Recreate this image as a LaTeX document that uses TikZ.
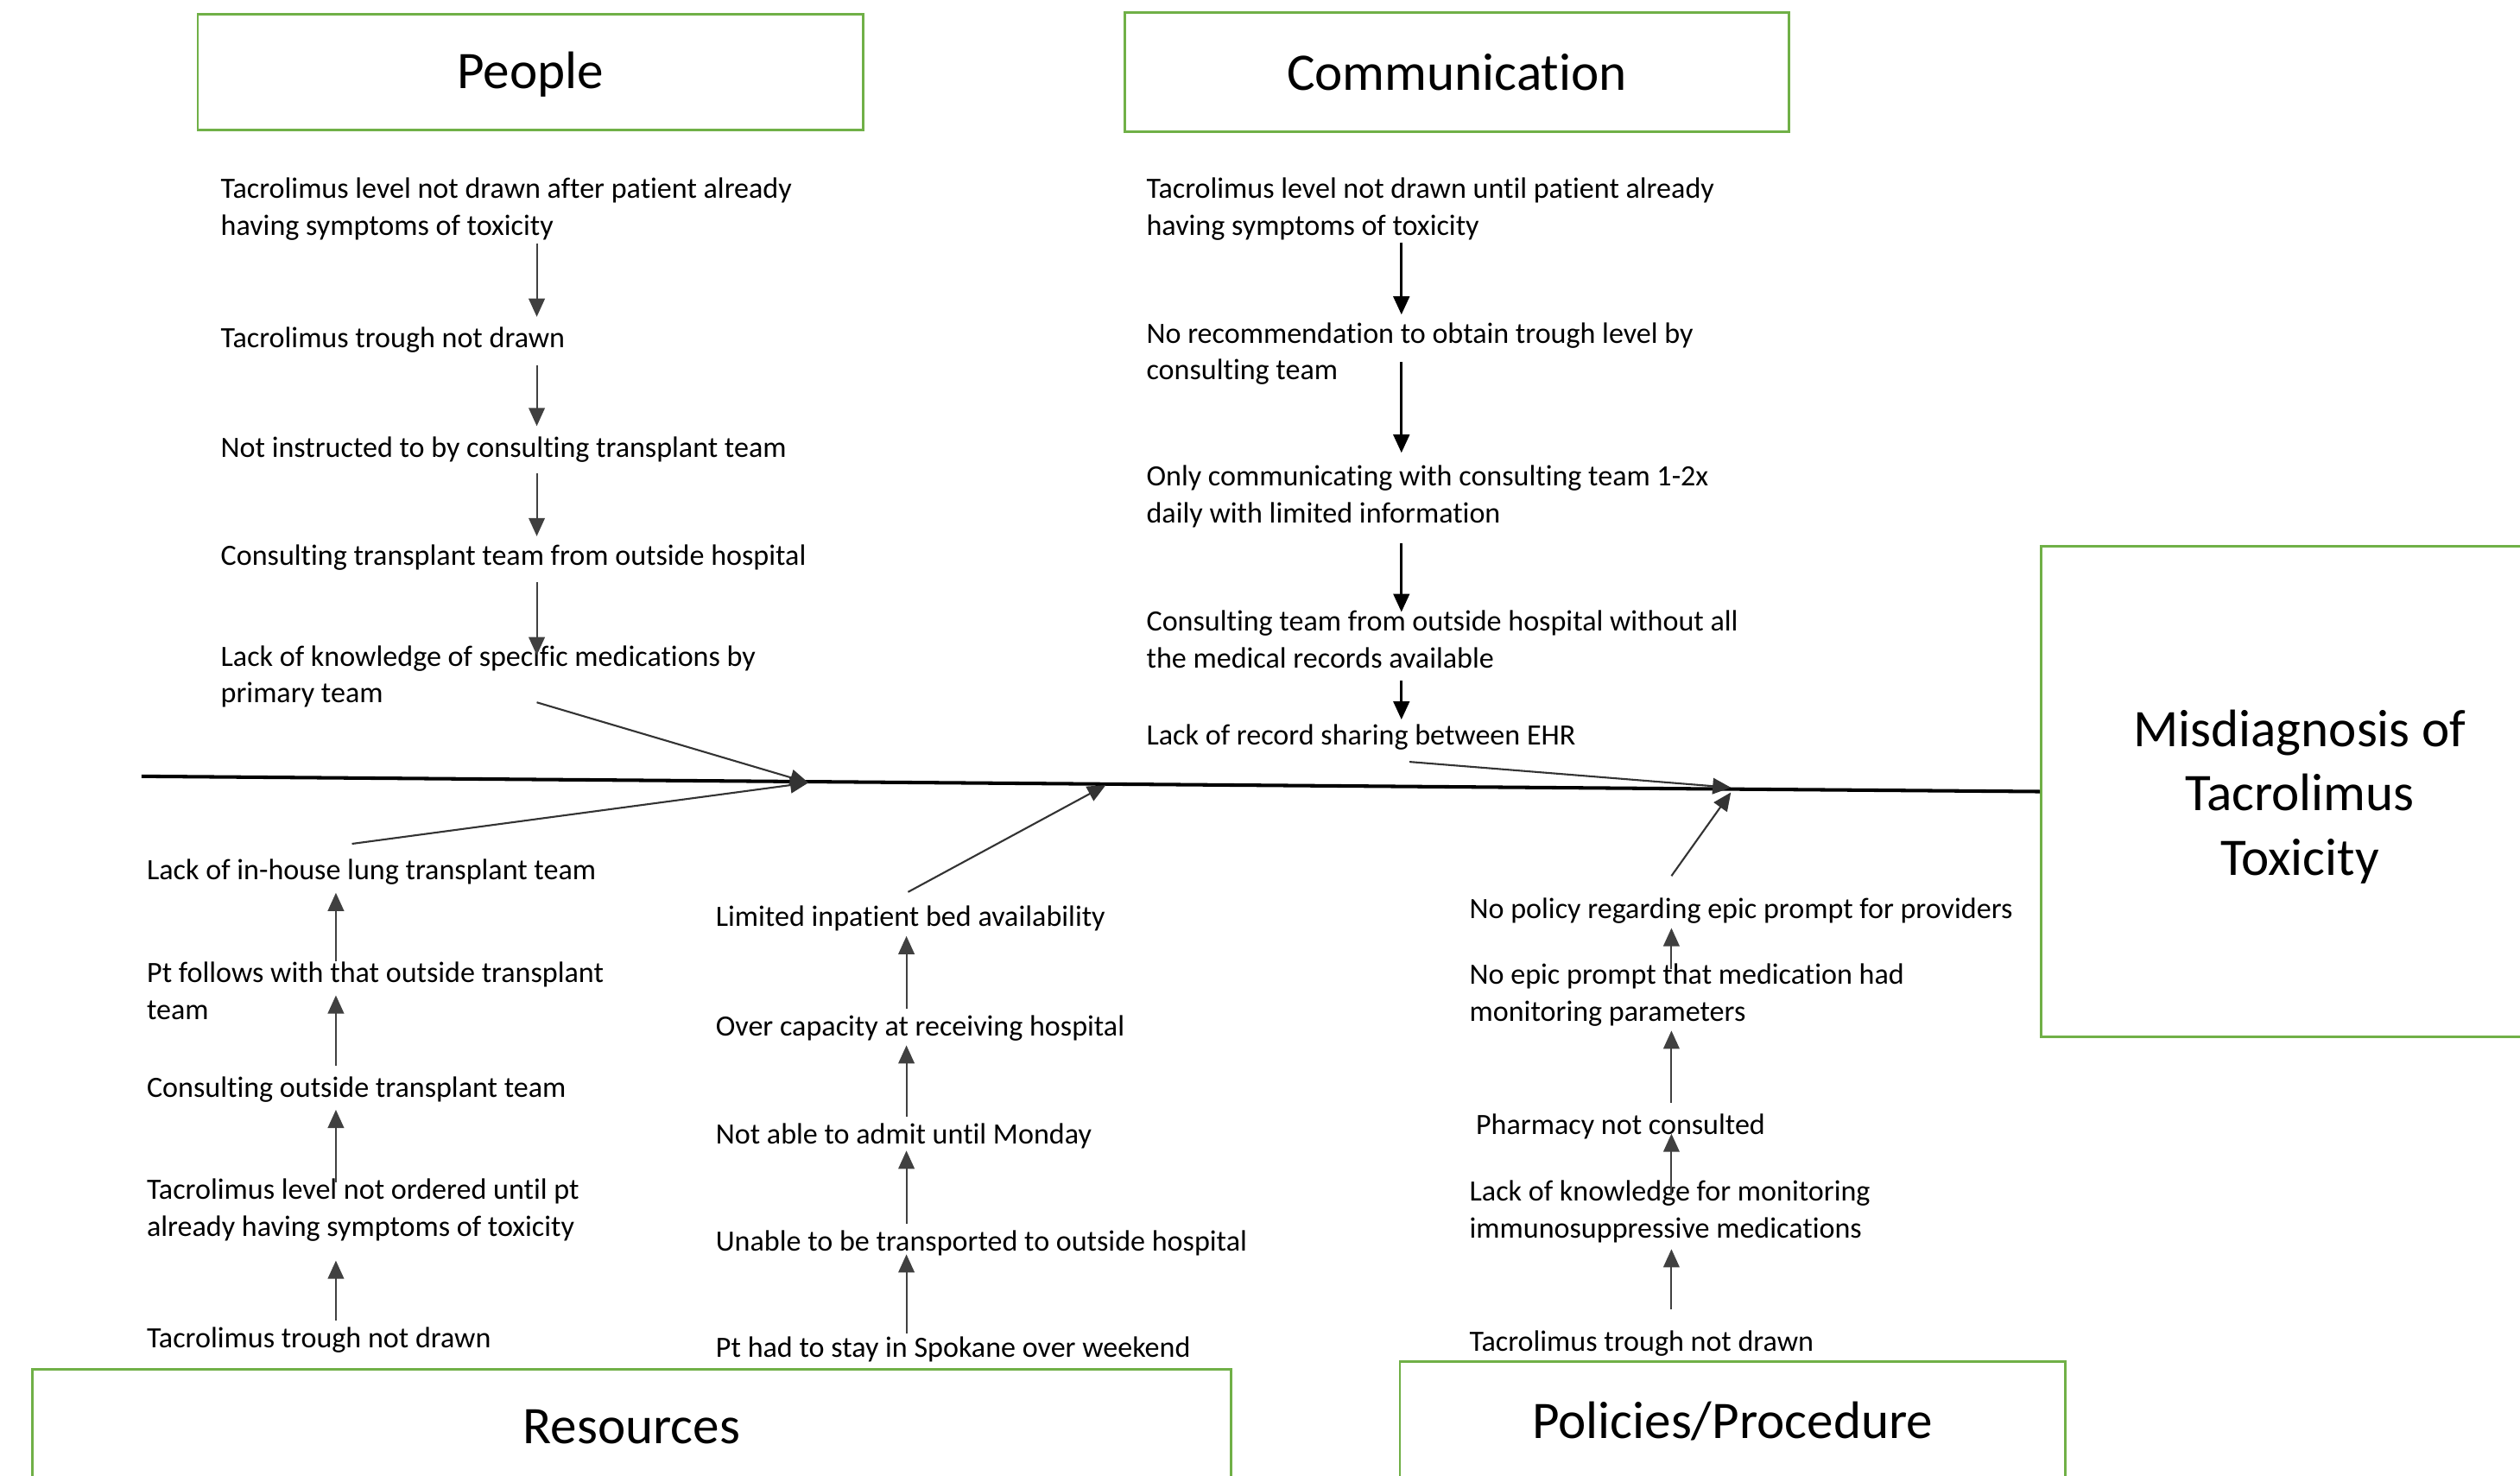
\documentclass[tikz,border=0pt]{standalone}
\usepackage{fontspec}
\setmainfont{Carlito}[Ligatures=NoCommon]
\usetikzlibrary{arrows.meta}
\definecolor{boxgreen}{RGB}{112,176,71}
\newcommand\cstrut{\rule[-2.1pt]{0pt}{12.2pt}}
\begin{document}
\begin{tikzpicture}[x=0.01861cm,y=-0.01861cm,
  catbox/.style={draw=boxgreen, line width=0.8pt, font=\fontsize{17.4}{21.2}\selectfont, inner sep=0pt},
  cause/.style={anchor=west, align=left, inner sep=0pt, font=\fontsize{9.7}{12.2}\selectfont,
    execute at begin node=\cstrut, execute at end node=\cstrut},
  arr/.style={-{Triangle[length=6pt,width=5.3pt]}, line width=0.6pt, black!75},
  carr/.style={arr, line width=0.8pt, black},
  bone/.style={-{Triangle[length=6pt,width=5.3pt]}, line width=0.6pt, black!80},
  spine/.style={line width=1.15pt}]
\useasboundingbox (0,0) rectangle (1568,918);
\clip (0,0) rectangle (1568,918);

% category and effect boxes
\node[catbox, minimum width=7.705cm, minimum height=1.34cm] (people) at (330,45) {\rule{0pt}{13.6pt}People};
\node[catbox, minimum width=7.686cm, minimum height=1.377cm] (comm) at (906.5,45) {Communication};
\node[catbox, minimum width=13.883cm, minimum height=1.34cm] (res) at (393,888) {Resources};
\node[catbox, minimum width=7.705cm, minimum height=1.377cm] (pol) at (1078,884) {Policies/Procedure};
\node[catbox, align=center, minimum width=5.992cm, minimum height=5.676cm] (effect) at (1431,492.5) {\rule{0pt}{15.4pt}Misdiagnosis of\\Tacrolimus\\Toxicity};

% column coordinates
\coordinate (pcol) at (334,0);
\coordinate (ccol) at (872,0);
\coordinate (rcol) at (209,0);
\coordinate (mcol) at (564,0);
\coordinate (qcol) at (1040,0);

% People
\node[cause] (p1) at (137,130.5) {Tacrolimus level not drawn after patient already\\having symptoms of toxicity};
\node[cause] (p2) at (137,209) {Tacrolimus trough not drawn};
\node[cause] (p3) at (137,277) {Not instructed to by consulting transplant team};
\node[cause] (p4) at (137,344) {Consulting transplant team from outside hospital};
\node[cause] (p5) at (137,421.5) {Lack of knowledge of specific medications by\\primary team};

% Communication
\node[cause] (c1) at (713,130.5) {Tacrolimus level not drawn until patient already\\having symptoms of toxicity};
\node[cause] (c2) at (713,220.5) {No recommendation to obtain trough level by\\consulting team};
\node[cause] (c3) at (713,309.5) {Only communicating with consulting team 1-2x\\daily with limited information};
\node[cause] (c4) at (713,399.5) {Consulting team from outside hospital without all\\the medical records available};
\node[cause] (c5) at (713,456) {Lack of record sharing between EHR};

% Resources (left)
\node[cause] (r1) at (91,540) {Lack of in-house lung transplant team};
\node[cause] (r2) at (91,618.5) {Pt follows with that outside transplant\\team};
\node[cause] (r3) at (91,675) {Consulting outside transplant team};
\node[cause] (r4) at (91,753.5) {Tacrolimus level not ordered until pt\\already having symptoms of toxicity};
\node[cause] (r5) at (91,831) {Tacrolimus trough not drawn};

% Resources (middle)
\node[cause] (m1) at (445,569) {Limited inpatient bed availability};
\node[cause] (m2) at (445,637) {Over capacity at receiving hospital};
\node[cause] (m3) at (445,704) {Not able to admit until Monday};
\node[cause] (m4) at (445,771) {Unable to be transported to outside hospital};
\node[cause] (m5) at (445,837) {Pt had to stay in Spokane over weekend};

% Policies/Procedure
\node[cause] (q1) at (914,564) {No policy regarding epic prompt for providers};
\node[cause] (q2) at (914,619.5) {No epic prompt that medication had\\monitoring parameters};
\node[cause] (q3) at (918,698) {Pharmacy not consulted};
\node[cause] (q4) at (914,754.5) {Lack of knowledge for monitoring\\immunosuppressive medications};
\node[cause] (q5) at (914,833) {Tacrolimus trough not drawn};

% chain arrows: People
\draw[arr, shorten <=0.3pt] (p1.south -| pcol) -- (p2.north -| pcol);
\draw[arr, shorten <=3.4pt] (p2.south -| pcol) -- (p3.north -| pcol);
\draw[arr, shorten <=2.9pt, shorten >=-0.8pt] (p3.south -| pcol) -- (p4.north -| pcol);
\draw[arr, shorten <=3.4pt, shorten >=-3.4pt] (p4.south -| pcol) -- (p5.north -| pcol);

% chain arrows: Communication
\draw[carr, shorten >=2.4pt] (c1.south -| ccol) -- (c2.north -| ccol);
\draw[carr, shorten <=-8.2pt, shorten >=4pt] (c2.south -| ccol) -- (c3.north -| ccol);
\draw[carr, shorten <=4.5pt, shorten >=-0.8pt] (c3.south -| ccol) -- (c4.north -| ccol);
\draw[carr, shorten <=1.9pt, shorten >=-1.9pt] (c4.south -| ccol) -- (c5.north -| ccol);

% chain arrows: Resources left
\draw[arr, shorten >=1.9pt] (r2.north -| rcol) -- (r1.south -| rcol);
\draw[arr, shorten >=-10.3pt] (r3.north -| rcol) -- (r2.south -| rcol);
\draw[arr, shorten <=-1.3pt, shorten >=1.9pt] (r4.north -| rcol) -- (r3.south -| rcol);
\draw[arr, shorten <=-1.3pt, shorten >=5.6pt] (r5.north -| rcol) -- (r4.south -| rcol);

% chain arrows: Resources middle
\draw[arr, shorten <=-1.3pt, shorten >=0.8pt] (m2.north -| mcol) -- (m1.south -| mcol);
\draw[arr, shorten <=-1.3pt, shorten >=0.8pt] (m3.north -| mcol) -- (m2.south -| mcol);
\draw[arr, shorten <=-1.3pt] (m4.north -| mcol) -- (m3.south -| mcol);
\draw[arr, shorten <=-2.4pt, shorten >=-1.3pt] (m5.north -| mcol) -- (m4.south -| mcol);

% chain arrows: Policies
\draw[arr, shorten <=-1.9pt, shorten >=0.8pt] (q2.north -| qcol) -- (q1.south -| qcol);
\draw[arr, shorten >=0.8pt] (q3.north -| qcol) -- (q2.south -| qcol);
\draw[arr, shorten <=-5pt, shorten >=-2.4pt] (q4.north -| qcol) -- (q3.south -| qcol);
\draw[arr, shorten <=3.4pt, shorten >=1.3pt] (q5.north -| qcol) -- (q4.south -| qcol);

% spine
\coordinate (s0) at (88,483);
\draw[spine] (s0) -- (effect.west);

% junctions on spine
\coordinate (j1) at (503,487);
\coordinate (j2) at (688,488.5);
\coordinate (j3) at (1077,490);
\coordinate (j4) at (1077,493);

% bones
\coordinate (pb) at (334,437);
\coordinate (rb) at (219,525);
\coordinate (mb) at (565,555);
\coordinate (cb) at (877,474);
\coordinate (qb) at (1040,545);
\draw[bone] (pb) -- (j1);
\draw[bone] (rb) -- (j1);
\draw[bone] (mb) -- (j2);
\draw[bone] (cb) -- (j3);
\draw[bone] (qb) -- (j4);
\end{tikzpicture}
\end{document}
